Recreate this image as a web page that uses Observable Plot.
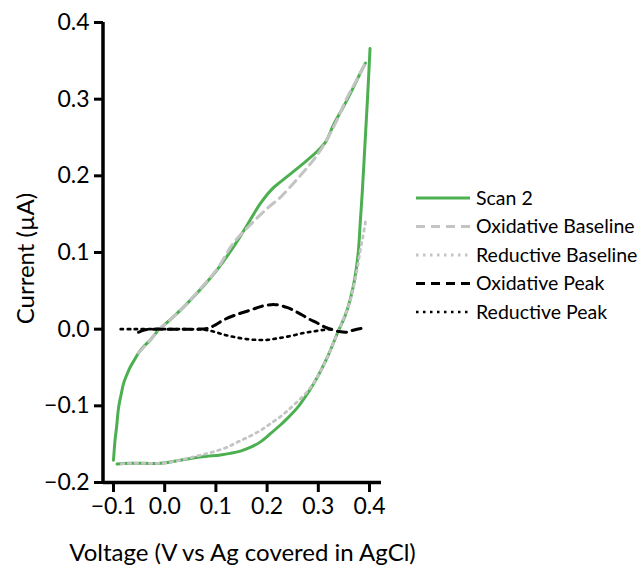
<!DOCTYPE html>
<html>
<head>
<meta charset="utf-8">
<script src="https://cdn.jsdelivr.net/npm/d3@7"></script>
<script src="https://cdn.jsdelivr.net/npm/@observablehq/plot@0.6"></script>
<style>
  html, body { margin: 0; padding: 0; background: #fff; }
  #wrap { position: relative; width: 643px; height: 568px; font-family: Lato, "Open Sans", sans-serif; }
  #legend { position: absolute; left: 0; top: 0; }
</style>
</head>
<body>
<div id="wrap"></div>
<script>
// ---- data ----
const scanV = [-0.100,-0.097,-0.094,-0.090,-0.085,-0.080,-0.073,-0.067,-0.059,-0.051,-0.040,-0.028,-0.012,0.000,0.017,0.046,0.070,0.103,0.134,0.154,0.187,0.210,0.226,0.265,0.298,0.315,0.330,0.349,0.369,0.382,0.392,
  null,
  0.401,0.396,0.391,0.386,0.382,0.378,0.371,0.362,0.352,0.340,0.318,0.291,0.262,0.240,0.226,0.207,0.187,0.168,0.148,0.128,0.109,0.080,0.056,0.030,-0.008,-0.040,-0.070,-0.093];
const scanI = [-0.171,-0.145,-0.128,-0.102,-0.085,-0.070,-0.058,-0.049,-0.040,-0.031,-0.022,-0.014,-0.001,0.006,0.016,0.035,0.052,0.078,0.107,0.128,0.164,0.183,0.192,0.213,0.232,0.245,0.267,0.290,0.316,0.334,0.347,
  null,
  0.366,0.300,0.240,0.180,0.140,0.100,0.065,0.038,0.017,-0.001,-0.036,-0.071,-0.100,-0.116,-0.125,-0.136,-0.147,-0.154,-0.159,-0.162,-0.164,-0.166,-0.168,-0.171,-0.175,-0.175,-0.175,-0.176];

const oxBaseV = [-0.051,-0.028,-0.012,0.017,0.046,0.070,0.103,0.134,0.170,0.201,0.226,0.259,0.285,0.304,0.330,0.357,0.375,0.392];
const oxBaseI = [-0.031,-0.014,-0.001,0.016,0.035,0.053,0.079,0.112,0.138,0.158,0.172,0.196,0.216,0.233,0.264,0.303,0.325,0.347];

const redBaseV = [0.392,0.387,0.382,0.375,0.367,0.360,0.350,0.340,0.318,0.295,0.275,0.252,0.230,0.207,0.185,0.162,0.140,0.122,0.100,0.084,0.060,0.030,-0.008,-0.040,-0.070,-0.092];
const redBaseI = [0.140,0.120,0.103,0.075,0.050,0.032,0.015,-0.001,-0.036,-0.066,-0.084,-0.099,-0.112,-0.123,-0.133,-0.141,-0.148,-0.154,-0.159,-0.162,-0.166,-0.171,-0.175,-0.175,-0.175,-0.176];

const oxPeakV = [-0.051,-0.040,-0.020,0.000,0.030,0.060,0.084,0.100,0.115,0.140,0.168,0.190,0.216,0.240,0.259,0.280,0.298,0.312,0.324,0.340,0.355,0.370,0.392];
const oxPeakI = [-0.004,-0.001,0.000,0.000,0.000,0.000,0.001,0.006,0.012,0.019,0.025,0.030,0.032,0.028,0.022,0.014,0.008,0.003,0.000,-0.003,-0.004,-0.001,0.002];

const redPeakV = [-0.086,-0.060,-0.030,0.000,0.040,0.080,0.100,0.115,0.134,0.160,0.181,0.200,0.220,0.245,0.271,0.290,0.310,0.325];
const redPeakI = [0.000,0.000,0.000,0.000,0.000,-0.001,-0.004,-0.007,-0.010,-0.013,-0.014,-0.014,-0.012,-0.009,-0.005,-0.003,-0.001,0.000];

const xTicks = [-0.1, 0.0, 0.1, 0.2, 0.3, 0.4];
const yTicks = [-0.2, -0.1, 0.0, 0.1, 0.2, 0.3, 0.4];
const xLabel = "Voltage (V vs Ag covered in AgCl)";
const yLabel = "Current (µA)";

const seriesNames = ["Scan 2", "Oxidative Baseline", "Reductive Baseline", "Oxidative Peak", "Reductive Peak"];
const seriesColors = ["#4caf50", "#c4c4c4", "#c4c4c4", "#000000", "#000000"];
const seriesDash = [null, "9,6", "2.5,4.5", "9,6", "2.5,4.5"];
const seriesWidth = [3, 3, 2.8, 3, 2.6];

// ---- build tables ----
const toRows = (V, I) => V.map((v, i) => ({V: v, I: I[i]}));
const series = [
  toRows(scanV, scanI),
  toRows(oxBaseV, oxBaseI),
  toRows(redBaseV, redBaseI),
  toRows(oxPeakV, oxPeakI),
  toRows(redPeakV, redPeakI)
];

const xDomain = [-0.1195, 0.4234];
const yDomain = [-0.2, 0.4];

const lineMarks = series.map((rows, k) => Plot.line(rows, {
  x: "V", y: "I",
  stroke: seriesColors[k],
  strokeWidth: seriesWidth[k],
  strokeDasharray: seriesDash[k] || undefined,
  curve: "catmull-rom",
  strokeLinejoin: "round"
}));

const font = "Lato, 'Open Sans', sans-serif";
const chart = Plot.plot({
  width: 643,
  height: 568,
  marginLeft: 103,
  marginRight: 262,
  marginTop: 22,
  marginBottom: 86,
  style: {fontFamily: font, fontSize: "23px", color: "#000", background: "#fff", overflow: "visible"},
  x: {domain: xDomain},
  y: {domain: yDomain},
  marks: [
    ...lineMarks,
    Plot.axisY({ticks: yTicks, tickFormat: d3.format(".1f"), tickSize: 9, tickPadding: 5, strokeWidth: 3, fontSize: 23, label: null}),
    Plot.axisX({ticks: xTicks, tickFormat: d3.format(".1f"), tickSize: 10, tickPadding: 5, strokeWidth: 3, fontSize: 23, label: null}),
    Plot.ruleX([xDomain[0]], {y1: yDomain[0], y2: yDomain[1], strokeWidth: 3.5, dx: -0.5}),
    Plot.ruleY([yDomain[0]], {x1: xDomain[0], x2: xDomain[1], strokeWidth: 3.5}),
    Plot.text([xLabel], {frameAnchor: "bottom", dy: 71, fontSize: 24, lineAnchor: "middle", textAnchor: "middle"}),
    Plot.text([yLabel], {frameAnchor: "left", dx: -77, dy: 6, rotate: -90, fontSize: 24, lineAnchor: "middle", textAnchor: "middle"})
  ]
});
document.getElementById("wrap").appendChild(chart);

// ---- legend ----
const rowY0 = 198, rowStep = 28.5;
const leg = d3.select("#wrap").append("svg")
  .attr("id", "legend").attr("width", 643).attr("height", 568)
  .style("pointer-events", "none");
seriesNames.forEach((name, k) => {
  const y = rowY0 + k * rowStep;
  leg.append("line")
    .attr("x1", 416).attr("x2", 470).attr("y1", y).attr("y2", y)
    .attr("stroke", seriesColors[k])
    .attr("stroke-width", seriesWidth[k])
    .attr("stroke-dasharray", seriesDash[k]);
  leg.append("text")
    .attr("x", 476).attr("y", y).attr("dy", "0.35em")
    .attr("font-family", font)
    .attr("font-size", 19.5)
    .attr("fill", "#000")
    .text(name);
});
</script>
</body>
</html>
